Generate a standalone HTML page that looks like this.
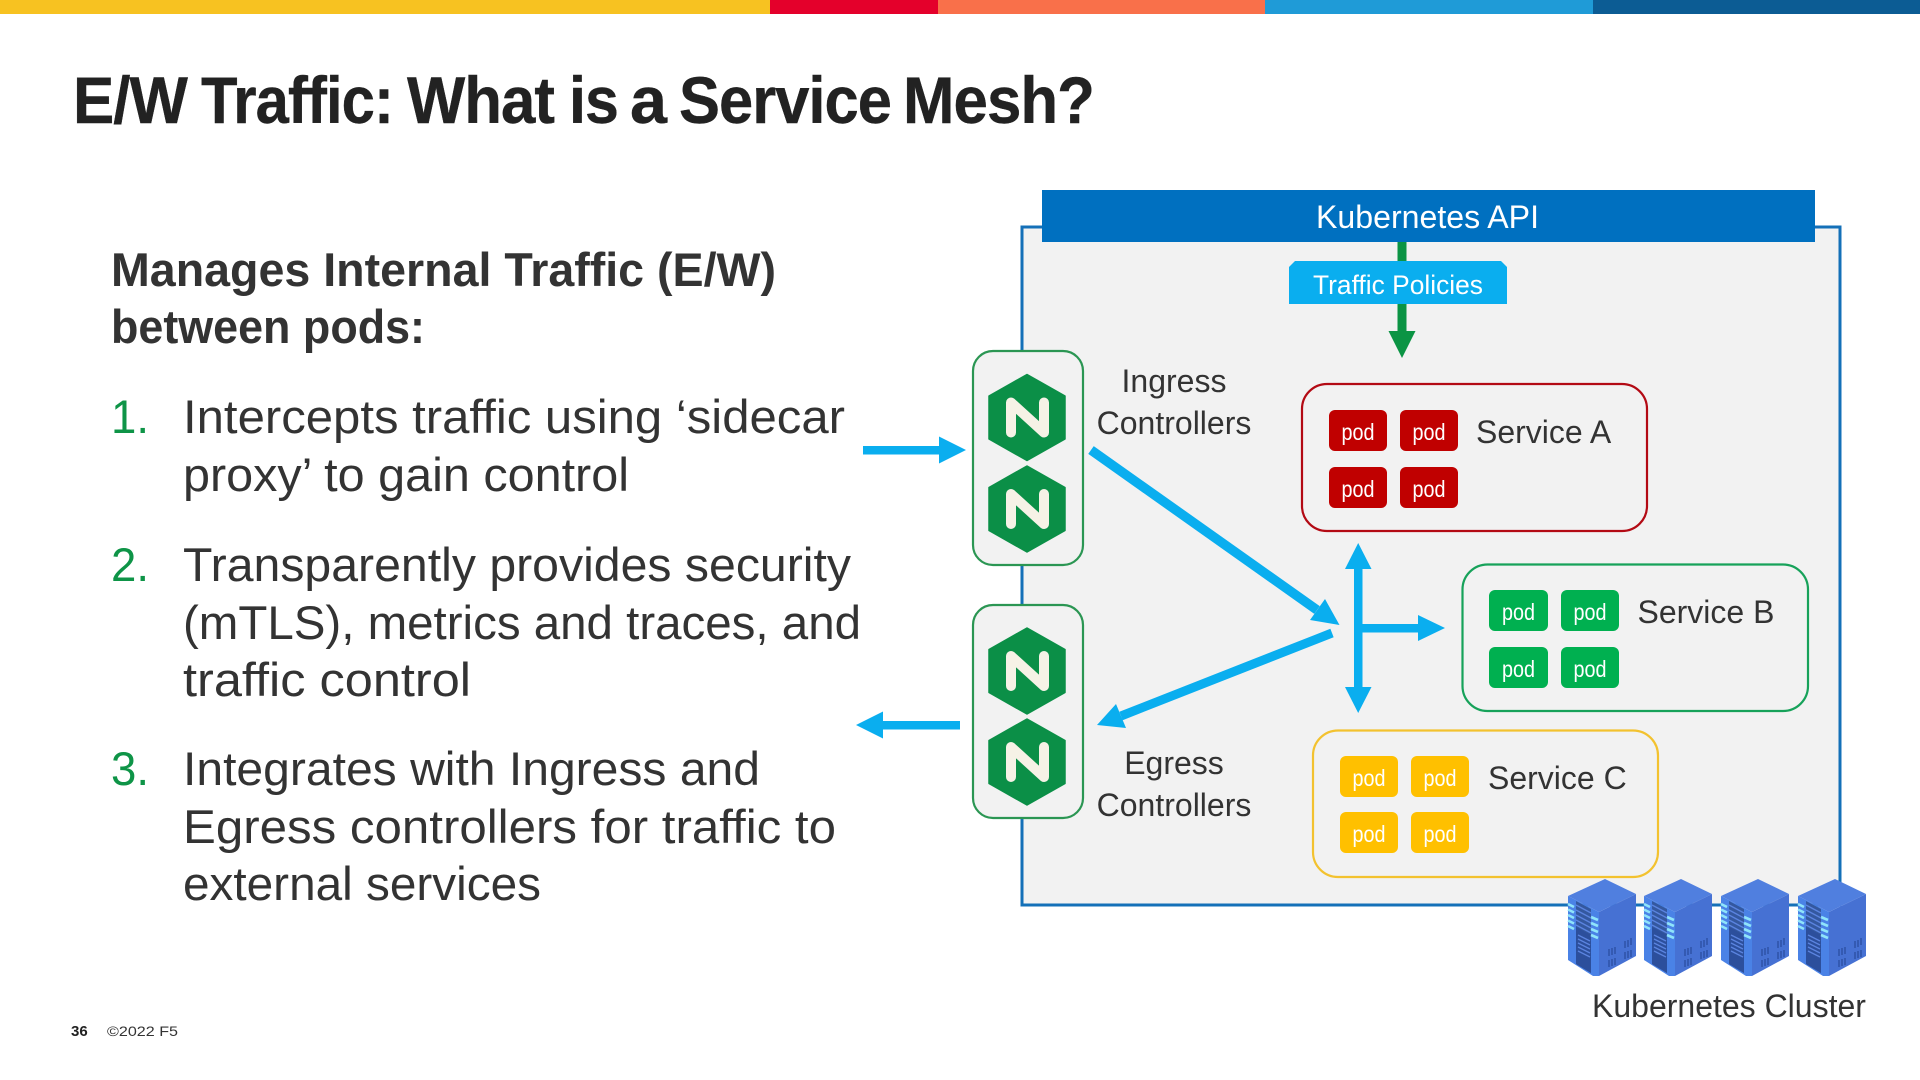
<!DOCTYPE html>
<html><head><meta charset="utf-8"><title>E/W Traffic: What is a Service Mesh?</title>
<style>
html,body{margin:0;padding:0;background:#fff;width:1920px;height:1080px;overflow:hidden}
svg{display:block;font-family:"Liberation Sans",Arial,sans-serif}
.b{font-size:47px;fill:#333}
.n{font-size:47px;fill:#0e9447}
.h{font-size:47px;font-weight:700;fill:#333}
.l{font-size:32px;fill:#333}
.p{font-size:23px;fill:#fff;text-anchor:middle}
.t{font-size:65.5px;font-weight:700;fill:#222;stroke:#222;stroke-width:.4;letter-spacing:-1px}
</style></head><body>
<svg width="1920" height="1080" viewBox="0 0 1920 1080" xmlns="http://www.w3.org/2000/svg">
<defs>
<g id="hex">
<polygon points="0,-43 38,-21.5 38,21.5 0,43 -38,21.5 -38,-21.5" fill="#0b8f47" stroke="#0b8f47" stroke-width="1.5" stroke-linejoin="round"/>
<path d="M-16 15V-15L17 15V-15" fill="none" stroke="#f6f2e6" stroke-width="10" stroke-linecap="round" stroke-linejoin="round"/>
</g>
<g id="srv">
<polygon points="0,17 31,33 31,97 25,97 0,81" fill="#4a82e6"/>
<polygon points="8,22 23,30 23,94 8,85" fill="#34589f"/>
<polygon points="8,48 23,56 23,94 8,85" fill="#2c4f9c"/>
<polygon points="68,15 68,77 31,97 31,33" fill="#4671d3"/>
<polygon points="37,0 68,15 31,33 0,17" fill="#507fdf"/>
<g stroke="#8fe4fa" stroke-width="2.6">
<path d="M0 25l6 3M0 30.500l6 3M0 36l6 3M0 41.500l6 3M0 47l6 3M23 38l7 3M23 44l7 3M23 50l7 3M23 56l7 3"/>
</g>
<g stroke="#5b84e0" stroke-width="1.3">
<path d="M8 26l15 8M8 31l15 8M8 36l15 8M8 41l15 8M8 46l15 8M10 56l12 6M10 60l12 6M10 64l12 6M10 68l12 6M10 72l12 6"/>
</g>
<g stroke="#2f52a8" stroke-width="1.5" fill="none">
<path d="M41 70v7M44 69v7M47 68v7M41 81v7M44 80v7M47 79v7M57 62v7M60 61v7M63 59v7M57 73v7M60 72v7M63 71v7"/>
</g>
</g>
</defs>

<!-- top bar -->
<rect x="0" y="0" width="770" height="14" fill="#f7c221"/>
<rect x="770" y="0" width="168" height="14" fill="#e4002b"/>
<rect x="938" y="0" width="327" height="14" fill="#f9704a"/>
<rect x="1265" y="0" width="328" height="14" fill="#1f9bd7"/>
<rect x="1593" y="0" width="327" height="14" fill="#0c5c94"/>

<!-- title -->
<text class="t" x="73" y="123" textLength="114" lengthAdjust="spacingAndGlyphs">E/W</text>
<text class="t" x="201" y="123" textLength="192" lengthAdjust="spacingAndGlyphs">Traffic:</text>
<text class="t" x="407" y="123" textLength="147" lengthAdjust="spacingAndGlyphs">What</text>
<text class="t" x="569" y="123" textLength="49" lengthAdjust="spacingAndGlyphs">is</text>
<text class="t" x="630" y="123" textLength="36" lengthAdjust="spacingAndGlyphs">a</text>
<text class="t" x="679" y="123" textLength="212" lengthAdjust="spacingAndGlyphs">Service</text>
<text class="t" x="903" y="123" textLength="191" lengthAdjust="spacingAndGlyphs">Mesh?</text>

<!-- body text -->
<text class="h" x="111" y="286" textLength="665" lengthAdjust="spacingAndGlyphs">Manages Internal Traffic (E/W)</text>
<text class="h" x="111" y="343" textLength="314" lengthAdjust="spacingAndGlyphs">between pods:</text>
<text class="n" x="111" y="433" textLength="38" lengthAdjust="spacingAndGlyphs">1.</text>
<text class="b" x="183" y="433" textLength="662" lengthAdjust="spacingAndGlyphs">Intercepts traffic using ‘sidecar</text>
<text class="b" x="183" y="491" textLength="446" lengthAdjust="spacingAndGlyphs">proxy’ to gain control</text>
<text class="n" x="111" y="581" textLength="38" lengthAdjust="spacingAndGlyphs">2.</text>
<text class="b" x="183" y="581" textLength="668" lengthAdjust="spacingAndGlyphs">Transparently provides security</text>
<text class="b" x="183" y="639" textLength="678" lengthAdjust="spacingAndGlyphs">(mTLS), metrics and traces, and</text>
<text class="b" x="183" y="696" textLength="288" lengthAdjust="spacingAndGlyphs">traffic control</text>
<text class="n" x="111" y="785" textLength="38" lengthAdjust="spacingAndGlyphs">3.</text>
<text class="b" x="183" y="785" textLength="577" lengthAdjust="spacingAndGlyphs">Integrates with Ingress and</text>
<text class="b" x="183" y="843" textLength="653" lengthAdjust="spacingAndGlyphs">Egress controllers for traffic to</text>
<text class="b" x="183" y="900" textLength="358" lengthAdjust="spacingAndGlyphs">external services</text>

<!-- footer -->
<text x="71" y="1036" font-size="15" font-weight="700" fill="#222">36</text>
<text x="107" y="1036" font-size="14" fill="#333" textLength="71" lengthAdjust="spacingAndGlyphs">©2022 F5</text>

<!-- cluster -->
<rect x="1022" y="227" width="818" height="678" fill="#f2f2f2" stroke="#1470b8" stroke-width="3"/>
<rect x="1042" y="190" width="773" height="52" fill="#0070c0"/>
<text x="1316" y="228" font-size="32" fill="#fff" textLength="223" lengthAdjust="spacingAndGlyphs">Kubernetes API</text>

<!-- green policy arrow -->
<rect x="1397.500" y="242" width="9" height="92" fill="#0b9444"/>
<polygon points="1388.500,331 1415.500,331 1402,358" fill="#0b9444"/>
<polygon points="1295,261 1501,261 1507,267 1507,304 1289,304 1289,267" fill="#0aaeef"/>
<text x="1313" y="294" font-size="27" fill="#fff" textLength="170" lengthAdjust="spacingAndGlyphs">Traffic Policies</text>

<!-- ingress / egress controllers -->
<rect x="973" y="351" width="110" height="214" rx="20" fill="#f2f2f2" stroke="#2b9653" stroke-width="2.2"/>
<rect x="973" y="605" width="110" height="213" rx="20" fill="#f2f2f2" stroke="#2b9653" stroke-width="2.2"/>
<use href="#hex" x="1027" y="417.500"/>
<use href="#hex" x="1027" y="509"/>
<use href="#hex" x="1027" y="671"/>
<use href="#hex" x="1027" y="762"/>
<text class="l" x="1174" y="392" text-anchor="middle">Ingress</text>
<text class="l" x="1174" y="434" text-anchor="middle">Controllers</text>
<text class="l" x="1174" y="774" text-anchor="middle">Egress</text>
<text class="l" x="1174" y="816" text-anchor="middle">Controllers</text>

<!-- services -->
<rect x="1302" y="384" width="345" height="147" rx="25" fill="none" stroke="#b30a14" stroke-width="2.2"/>
<g fill="#c00000">
<rect x="1329" y="410" width="58" height="41" rx="6"/><rect x="1400" y="410" width="58" height="41" rx="6"/>
<rect x="1329" y="467" width="58" height="41" rx="6"/><rect x="1400" y="467" width="58" height="41" rx="6"/>
</g>
<text class="p" x="1358" y="440" textLength="33" lengthAdjust="spacingAndGlyphs">pod</text>
<text class="p" x="1429" y="440" textLength="33" lengthAdjust="spacingAndGlyphs">pod</text>
<text class="p" x="1358" y="497" textLength="33" lengthAdjust="spacingAndGlyphs">pod</text>
<text class="p" x="1429" y="497" textLength="33" lengthAdjust="spacingAndGlyphs">pod</text>
<text class="l" x="1476" y="443">Service A</text>

<rect x="1462.500" y="564.500" width="345.500" height="146.500" rx="25" fill="none" stroke="#17a25a" stroke-width="2.2"/>
<g fill="#00b050">
<rect x="1489" y="590" width="59" height="41" rx="6"/><rect x="1561" y="590" width="58" height="41" rx="6"/>
<rect x="1489" y="647" width="59" height="41" rx="6"/><rect x="1561" y="647" width="58" height="41" rx="6"/>
</g>
<text class="p" x="1518.500" y="620" textLength="33" lengthAdjust="spacingAndGlyphs">pod</text>
<text class="p" x="1590" y="620" textLength="33" lengthAdjust="spacingAndGlyphs">pod</text>
<text class="p" x="1518.500" y="677" textLength="33" lengthAdjust="spacingAndGlyphs">pod</text>
<text class="p" x="1590" y="677" textLength="33" lengthAdjust="spacingAndGlyphs">pod</text>
<text class="l" x="1637.500" y="623">Service B</text>

<rect x="1313" y="730.500" width="345" height="146.500" rx="25" fill="none" stroke="#f3c22f" stroke-width="2.2"/>
<g fill="#ffc000">
<rect x="1340" y="756" width="58" height="41" rx="6"/><rect x="1411" y="756" width="58" height="41" rx="6"/>
<rect x="1340" y="812" width="58" height="41" rx="6"/><rect x="1411" y="812" width="58" height="41" rx="6"/>
</g>
<text class="p" x="1369" y="786" textLength="33" lengthAdjust="spacingAndGlyphs">pod</text>
<text class="p" x="1440" y="786" textLength="33" lengthAdjust="spacingAndGlyphs">pod</text>
<text class="p" x="1369" y="842" textLength="33" lengthAdjust="spacingAndGlyphs">pod</text>
<text class="p" x="1440" y="842" textLength="33" lengthAdjust="spacingAndGlyphs">pod</text>
<text class="l" x="1488" y="789">Service C</text>

<!-- blue arrows -->
<g fill="#0aaeef">
<rect x="863" y="446" width="78" height="8.500"/>
<polygon points="939,436.500 966,450 939,463.500"/>
<rect x="880" y="721" width="80" height="8.500"/>
<polygon points="883,711.500 856,725 883,738.500"/>
<rect x="1354" y="560" width="8.500" height="135"/>
<polygon points="1358.200,543 1371.500,569 1345,569"/>
<polygon points="1358.200,713 1371.500,687 1345,687"/>
<rect x="1358" y="624" width="62" height="8.500"/>
<polygon points="1418,615 1445,628 1418,641"/>
<polygon points="1339.500,625 1310,620 1325,599"/>
<polygon points="1097,725 1116,704 1126,728"/>
</g>
<line x1="1091" y1="450" x2="1317" y2="610" stroke="#0aaeef" stroke-width="9.500"/>
<line x1="1332" y1="633" x2="1121" y2="716" stroke="#0aaeef" stroke-width="9"/>

<!-- servers -->
<use href="#srv" x="1568" y="879"/>
<use href="#srv" x="1644" y="879"/>
<use href="#srv" x="1721" y="879"/>
<use href="#srv" x="1798" y="879"/>
<text class="l" x="1592" y="1017">Kubernetes Cluster</text>
</svg>
</body></html>
